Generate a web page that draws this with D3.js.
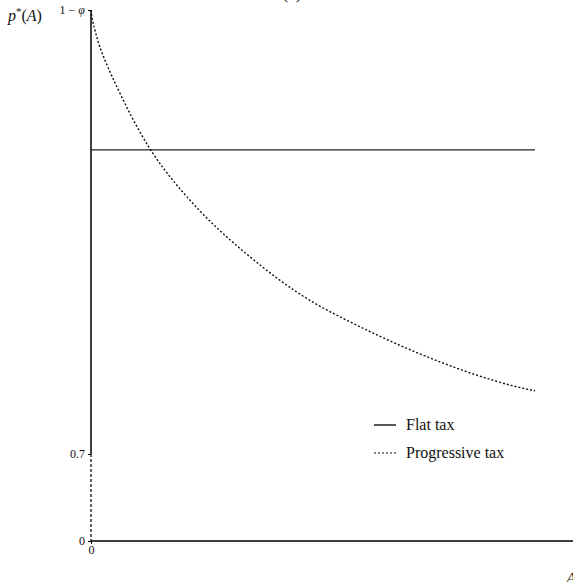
<!DOCTYPE html>
<html>
<head>
<meta charset="utf-8">
<script src="https://cdn.jsdelivr.net/npm/d3@7"></script>
<style>
  body { margin: 0; background: #fff; }
  text { font-family: "Liberation Serif", "DejaVu Serif", serif; fill: #111; }
</style>
</head>
<body>
<div id="mainDiv"></div>
<script>
'use strict';

// dados
var assets      = [0, 0.02, 0.09, 0.2, 0.7, 1.3, 2, 2.75, 3.5, 4.25, 5, 5.75, 6.5, 7.25, 8, 8.75, 9.5, 10];
var progressive = [0.9, 0.896, 0.891, 0.882, 0.86, 0.837, 0.819, 0.803, 0.79, 0.778, 0.768, 0.7603, 0.753, 0.7463, 0.7403, 0.735, 0.7305, 0.7285];
var flatTax     = 0.837;
var flatRange   = [0, 10];
var yTicks      = [0, 0.7, 0.9];
var yTickLabels = ['0', '0.7', '1 \u2212 '];
var xTicks      = [0];
var legendKeys  = ['Flat tax', 'Progressive tax'];

var chart = {};
chart.W = 573;
chart.H = 582;
chart.margins = {top: 10, bottom: 41, left: 91, right: 38};
chart.w = chart.W - chart.margins.left - chart.margins.right;
chart.h = chart.H - chart.margins.top - chart.margins.bottom;
chart.breakGap = 87; // distância do 0 até a quebra do eixo (0.7)

chart.run = function()
{
    var svg = d3.select('#mainDiv').append('svg')
        .attr('width', chart.W)
        .attr('height', chart.H);

    var g = svg.append('g')
        .attr('transform', 'translate(' + chart.margins.left + ',' + chart.margins.top + ')');

    var x = d3.scaleLinear().domain([0, 10]).range([0, chart.w]);
    var y = d3.scaleLinear().domain(yTicks).range([chart.h, chart.h - chart.breakGap, 0]);

    // linha flat
    g.append('path')
        .datum(flatRange)
        .attr('fill', 'none')
        .attr('stroke', '#222')
        .attr('stroke-width', 1.4)
        .attr('d', d3.line().x(function(d) { return x(d); }).y(function() { return y(flatTax); }));

    // curva progressiva
    var pts = assets.map(function(a, i) { return [a, progressive[i]]; });
    g.append('path')
        .datum(pts)
        .attr('fill', 'none')
        .attr('stroke', '#111')
        .attr('stroke-width', 1.4)
        .attr('stroke-dasharray', '2,2')
        .attr('d', d3.line().curve(d3.curveBasis)
            .x(function(d) { return x(d[0]); })
            .y(function(d) { return y(d[1]); }));

    // eixo y: sólido acima da quebra, tracejado abaixo
    g.append('line')
        .attr('x1', 0).attr('x2', 0)
        .attr('y1', y(0.9)).attr('y2', y(0.7))
        .attr('stroke', '#000').attr('stroke-width', 1.5);
    g.append('line')
        .attr('x1', 0).attr('x2', 0)
        .attr('y1', y(0.7)).attr('y2', y(0))
        .attr('stroke', '#000').attr('stroke-width', 1.2)
        .attr('stroke-dasharray', '3,2');

    var yAxis = g.append('g')
        .call(d3.axisLeft(y).tickValues(yTicks).tickSize(3)
            .tickFormat(function(d, i) { return yTickLabels[i]; }));
    yAxis.select('.domain').remove();
    yAxis.selectAll('text').style('font-size', '12px').attr('fill', '#333');
    // phi em itálico no rótulo do topo
    yAxis.selectAll('text').filter(function(d) { return d === 0.9; })
        .append('tspan').style('font-style', 'italic').text('\u03c6');

    // eixo x
    g.append('line')
        .attr('x1', 0).attr('x2', chart.w + chart.margins.right)
        .attr('y1', chart.h).attr('y2', chart.h)
        .attr('stroke', '#000').attr('stroke-width', 1.5);

    var xAxis = g.append('g')
        .attr('transform', 'translate(0,' + chart.h + ')')
        .call(d3.axisBottom(x).tickValues(xTicks).tickSize(3).tickFormat(d3.format('d')));
    xAxis.select('.domain').remove();
    xAxis.selectAll('text').style('font-size', '12px').attr('fill', '#333').attr('dy', '0.55em');

    // rótulos dos eixos
    var yl = svg.append('text')
        .attr('x', 8).attr('y', 21)
        .style('font-size', '16px');
    yl.append('tspan').style('font-style', 'italic').text('p');
    yl.append('tspan').attr('dy', -6).style('font-size', '11px').text('*');
    yl.append('tspan').attr('dy', 6).text('(');
    yl.append('tspan').style('font-style', 'italic').text('A');
    yl.append('tspan').text(')');

    svg.append('text')
        .attr('x', 566).attr('y', 584)
        .style('font-size', '17px').style('font-style', 'italic')
        .text('A');

    // título (cortado no topo)
    svg.append('text')
        .attr('x', 292).attr('y', -1)
        .attr('text-anchor', 'middle')
        .style('font-size', '17px')
        .text('(a)');

    // legenda
    var leg = svg.append('g').attr('transform', 'translate(374,425)');
    legendKeys.forEach(function(k, i) {
        leg.append('line')
            .attr('x1', 0).attr('x2', 22)
            .attr('y1', i * 28).attr('y2', i * 28)
            .attr('stroke', '#111')
            .attr('stroke-width', i === 0 ? 1.4 : 1.2)
            .attr('stroke-dasharray', i === 0 ? null : '2,2');
        leg.append('text')
            .attr('x', 32).attr('y', i * 28)
            .attr('dy', '0.33em')
            .style('font-size', '16px')
            .text(k);
    });
};

window.onload = chart.run;
</script>
</body>
</html>
